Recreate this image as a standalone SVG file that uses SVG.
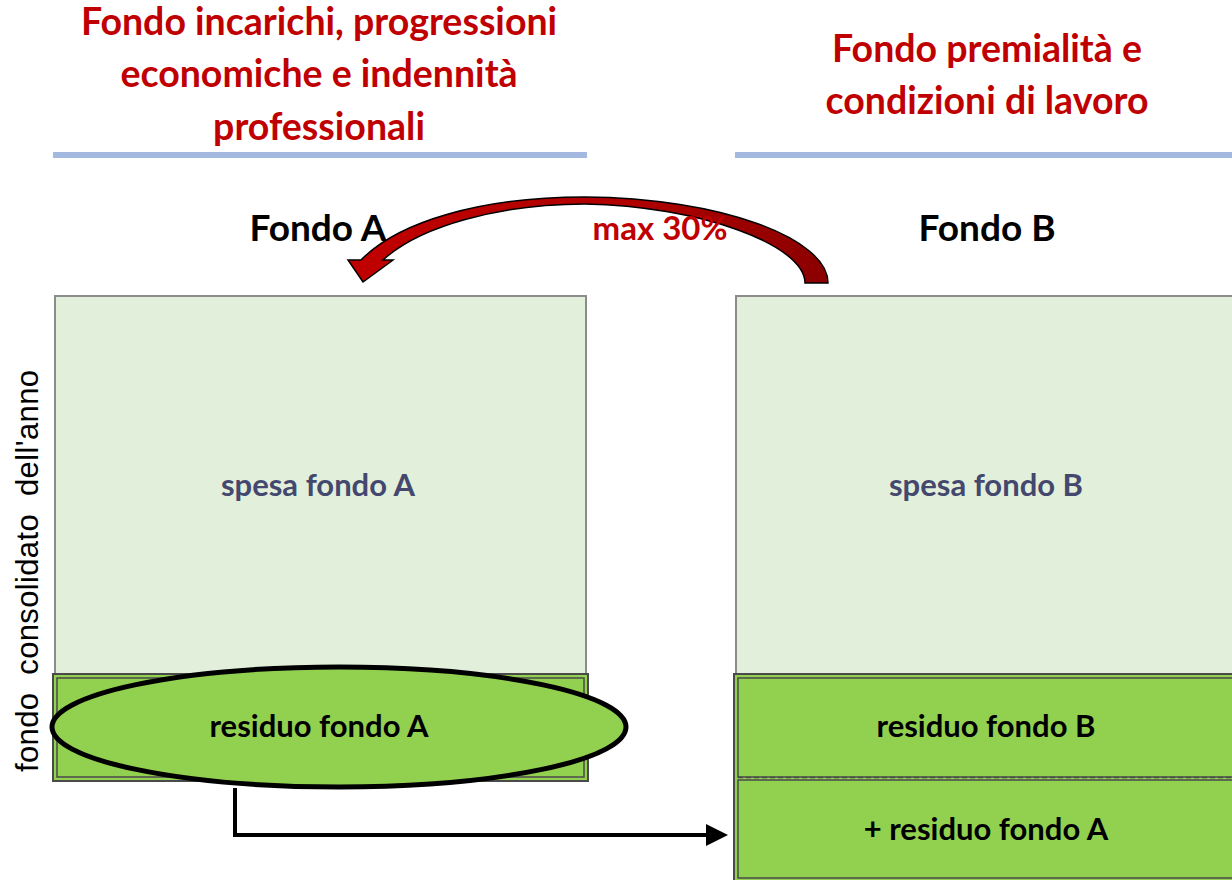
<svg xmlns="http://www.w3.org/2000/svg" width="1232" height="880" viewBox="0 0 1232 880">
<style>
.title{font-family:Lato,"Open Sans",sans-serif;font-weight:bold;font-size:37.5px;fill:#C00000;text-anchor:middle}
.head{font-family:Lato,"Open Sans",sans-serif;font-weight:bold;font-size:37px;fill:#000;text-anchor:middle}
.lbl{font-family:Lato,"Open Sans",sans-serif;font-weight:bold;font-size:31px;text-anchor:middle}
.light{fill:#E2EFDA;stroke:#8C8C8C;stroke-width:2}
.res{fill:#92D050;stroke:#4A4A4A;stroke-width:2}
.inner{fill:none;stroke:#4A4A4A;stroke-width:1.5}
.rule{fill:#A4B9E0}
</style>
<defs>
<linearGradient id="redg" x1="0" y1="0" x2="1" y2="0">
<stop offset="0" stop-color="#C00000"/>
<stop offset="0.6" stop-color="#B00000"/>
<stop offset="1" stop-color="#8B0000"/>
</linearGradient>
</defs>

<g id="header-left">
<text class="title" x="319" y="35">Fondo incarichi, progressioni</text>
<text class="title" x="319" y="87">economiche e indennità</text>
<text class="title" x="319" y="140">professionali</text>
<rect class="rule" x="53" y="152" width="534" height="6"/>
</g>
<g id="header-right">
<text class="title" x="987" y="62">Fondo premialità e</text>
<text class="title" x="987" y="114">condizioni di lavoro</text>
<rect class="rule" x="735" y="152" width="497" height="6"/>
</g>

<g id="axis-label">
<text transform="translate(38,571) rotate(-90)" x="0" y="0" text-anchor="middle" font-family="'Liberation Sans',Arial,sans-serif" font-size="31" fill="#000" xml:space="preserve" textLength="402" lengthAdjust="spacing">fondo  consolidato  dell'anno</text>
</g>

<g id="fondoA">
<text class="head" x="318" y="241">Fondo A</text>
<rect class="light" x="55" y="296" width="531" height="379"/>
<text class="lbl" x="318" y="496" fill="#44486E">spesa fondo A</text>
</g>

<g id="residuoA">
<rect class="res" x="53" y="674" width="535" height="107"/>
<rect class="inner" x="57" y="678" width="527" height="99"/>
<ellipse cx="339" cy="727" rx="287" ry="60" fill="#92D050" stroke="#000" stroke-width="5"/>
<text class="lbl" x="319" y="737" fill="#000">residuo fondo A</text>
</g>

<g id="fondoB">
<text class="head" x="987" y="241">Fondo B</text>
<rect class="light" x="736" y="296" width="500" height="379"/>
<text class="lbl" x="986" y="496" fill="#44486E">spesa fondo B</text>
</g>

<g id="residuoB">
<rect class="res" x="734" y="674" width="502" height="210"/>
<rect class="inner" x="738" y="678" width="500" height="99"/>
<rect class="inner" x="738" y="780" width="500" height="98"/>
<line x1="738" y1="777.5" x2="1232" y2="777.5" stroke="#4A4A4A" stroke-width="1.5" stroke-dasharray="5,3"/>
<text class="lbl" x="986" y="737" fill="#000">residuo fondo B</text>
<text class="lbl" x="986" y="840" fill="#000">+ residuo fondo A</text>
</g>

<g id="connectors">
<path d="M235,788 L235,835 L712,835" fill="none" stroke="#000" stroke-width="4"/>
<path d="M706,824 L728,835 L706,846 Z" fill="#000"/>
<path d="M828,283 C828,238 720,198 585,197 C480,197 398,222 361,260 L348,260 L363,282 L393,260 L383,260 C420,226 500,204 585,204 C700,206 805,245 805,283 Z" fill="url(#redg)" stroke="#000" stroke-width="1.5" stroke-linejoin="miter"/>
<text x="660" y="240" text-anchor="middle" font-family="Lato,'Open Sans',sans-serif" font-weight="bold" font-size="33" fill="#C00000">max 30%</text>
</g>
</svg>
